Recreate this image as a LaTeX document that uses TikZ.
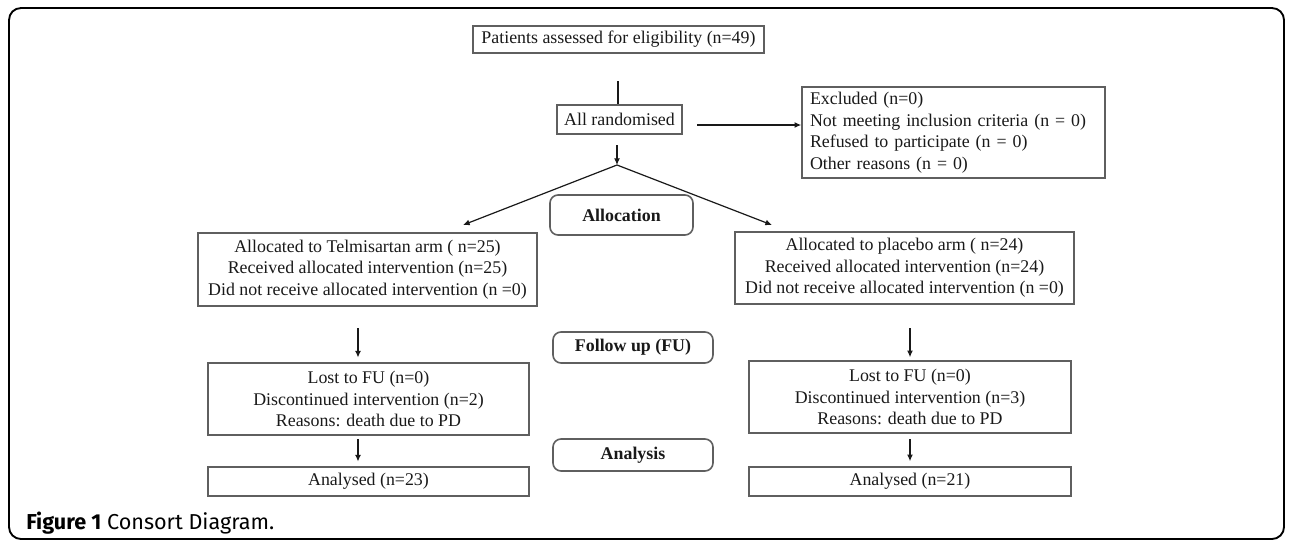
\documentclass[tikz,border=0pt]{standalone}
\usepackage{fontspec}
\setmainfont{Liberation Serif}
\newfontfamily\capfont{Fira Sans}
\usetikzlibrary{arrows.meta}
\definecolor{boxgray}{RGB}{95,95,95}
\definecolor{ink}{RGB}{25,25,25}
\begin{document}
\begin{tikzpicture}[x=0.75pt,y=-0.75pt,
  txt/.style={font=\fontsize{13.4}{16.2}\selectfont, text=ink},
  box/.style={txt, draw=boxgray, line width=1.2pt, inner sep=0pt, align=center},
  phase/.style={box, rounded corners=6pt, font=\fontsize{13.4}{16.2}\selectfont\bfseries},
  arr/.style={draw=ink, line width=0.9pt, -{Latex[length=5pt,width=4.5pt]}},
  ln/.style={draw=ink, line width=0.9pt}]
\useasboundingbox (0,0) rectangle (1290,540);
\draw[line width=1.4pt, rounded corners=9pt] (9,8) rectangle (1284,539);

\node[box, minimum width=218.25pt, minimum height=20.25pt] (pat) at (618.5,39.5) {Patients assessed for eligibility (n=49)};
\node[box, minimum width=93.75pt, minimum height=21.75pt] (rand) at (619.5,119.5) {All randomised};
\node[box, text width=215.25pt, inner xsep=6pt, align=left, minimum height=68.25pt] (excl) at (953.5,132.5) {Excluded (n=0)\\Not meeting inclusion criteria (n = 0)\\Refused to participate (n = 0)\\Other reasons (n = 0)};
\node[phase, minimum width=107.25pt, minimum height=30pt] (alloc) at (621.5,215) {Allocation};
\node[box, minimum width=254.25pt, minimum height=54.75pt] (telm) at (367.5,269.5) {Allocated to Telmisartan arm ( n=25)\\Received allocated intervention (n=25)\\Did not receive allocated intervention (n =0)};
\node[box, minimum width=254.25pt, minimum height=54pt] (plac) at (904.5,268) {Allocated to placebo arm ( n=24)\\Received allocated intervention (n=24)\\Did not receive allocated intervention (n =0)};
\node[phase, minimum width=120pt, minimum height=23.25pt] (fu) at (633,347.5) {Follow up (FU)};
\node[box, minimum width=240.75pt, minimum height=54pt] (lostL) at (368.5,399) {Lost to FU (n=0)\\Discontinued intervention (n=2)\\Reasons: death due to PD};
\node[box, minimum width=241.5pt, minimum height=54pt] (lostR) at (910,397) {Lost to FU (n=0)\\Discontinued intervention (n=3)\\Reasons: death due to PD};
\node[phase, minimum width=120pt, minimum height=24pt] (ana) at (633,455) {Analysis};
\node[box, minimum width=240.75pt, minimum height=21.75pt] (anL) at (368.5,481.5) {Analysed (n=23)};
\node[box, minimum width=241.5pt, minimum height=21.75pt] (anR) at (910,481.5) {Analysed (n=21)};

\coordinate (p1) at (618,81);
\draw[ln] (p1) -- (p1 |- rand.north);
\coordinate (r1) at (697,125);
\draw[arr] (r1) -- (r1 -| excl.west);
\coordinate (r2) at (617,145);
\coordinate (split) at (617,165);
\draw[arr] (r2) -- (split);
\coordinate (tL) at (463,225);
\coordinate (tR) at (772,225);
\draw[arr] (split) -- (tL);
\draw[arr] (split) -- (tR);
\coordinate (a1) at (358,328);
\coordinate (a2) at (358,439);
\coordinate (b1) at (910,328);
\coordinate (b2) at (910,439);
\draw[arr, shorten >=3.5pt] (a1) -- (a1 |- lostL.north);
\draw[arr, shorten >=3.5pt] (a2) -- (a2 |- anL.north);
\draw[arr, shorten >=2.25pt] (b1) -- (b1 |- lostR.north);
\draw[arr, shorten >=3.75pt] (b2) -- (b2 |- anR.north);

\node[anchor=west, inner sep=0pt, font=\capfont\fontsize{16.2}{19}\selectfont, text=black] (cap) at (26,523) {\textbf{Figure 1} Consort Diagram.};
\end{tikzpicture}
\end{document}
